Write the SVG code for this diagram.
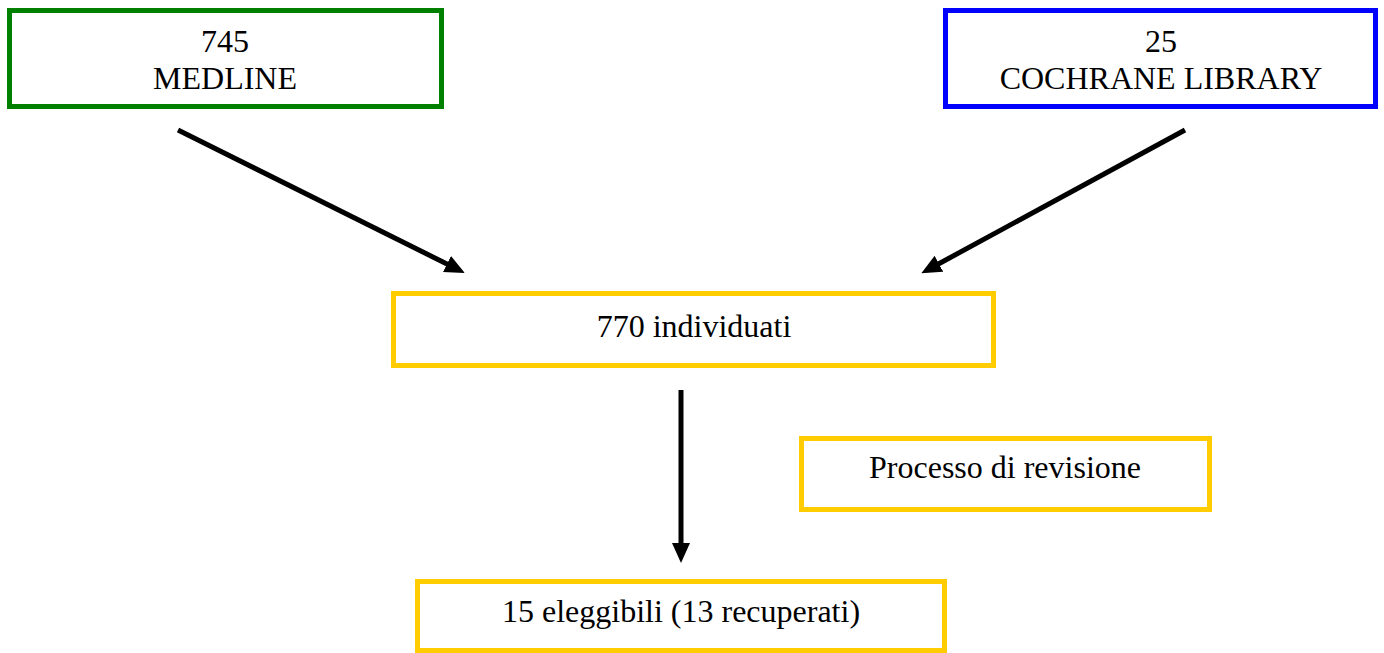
<svg xmlns="http://www.w3.org/2000/svg" width="1384" height="653" viewBox="0 0 1384 653">
<style>
.box{fill:#fff;stroke-width:5}
.y{stroke:#FFCC00}
.t{font-family:"Liberation Serif","Times New Roman",serif;font-size:32px;fill:#000;text-anchor:middle}
.c{stroke:#000;stroke-width:5;fill:none;marker-end:url(#ah)}
</style>
<defs>
<marker id="ah" markerUnits="userSpaceOnUse" markerWidth="20" markerHeight="18" refX="9" refY="9" orient="auto" viewBox="0 0 20 18">
<path d="M0,0 L20,9 L0,18 z" fill="#000"/>
</marker>
</defs>
<rect width="1384" height="653" fill="#fff"/>
<g id="medline">
<rect class="box" x="9.5" y="10.5" width="432" height="96" stroke="#008000"/>
<text class="t" x="225" y="52">745</text>
<text class="t" x="225" y="89">MEDLINE</text>
</g>
<g id="cochrane">
<rect class="box" x="945.5" y="10.5" width="430" height="96" stroke="#0000FF"/>
<text class="t" x="1161" y="52">25</text>
<text class="t" x="1161" y="89">COCHRANE LIBRARY</text>
</g>
<g id="individuati">
<rect class="box y" x="393.5" y="293.5" width="600" height="72"/>
<text class="t" x="694" y="337">770 individuati</text>
</g>
<g id="revisione">
<rect class="box y" x="801.5" y="438.5" width="408" height="71"/>
<text class="t" x="1005" y="478">Processo di revisione</text>
</g>
<g id="eleggibili">
<rect class="box y" x="417.5" y="581.5" width="527" height="69"/>
<text class="t" x="681" y="622">15 eleggibili (13 recuperati)</text>
</g>
<g id="connectors">
<line class="c" x1="178" y1="130" x2="455" y2="268"/>
<line class="c" x1="1185" y1="130" x2="931" y2="268"/>
<line class="c" x1="681" y1="390" x2="681" y2="552"/>
</g>
</svg>
